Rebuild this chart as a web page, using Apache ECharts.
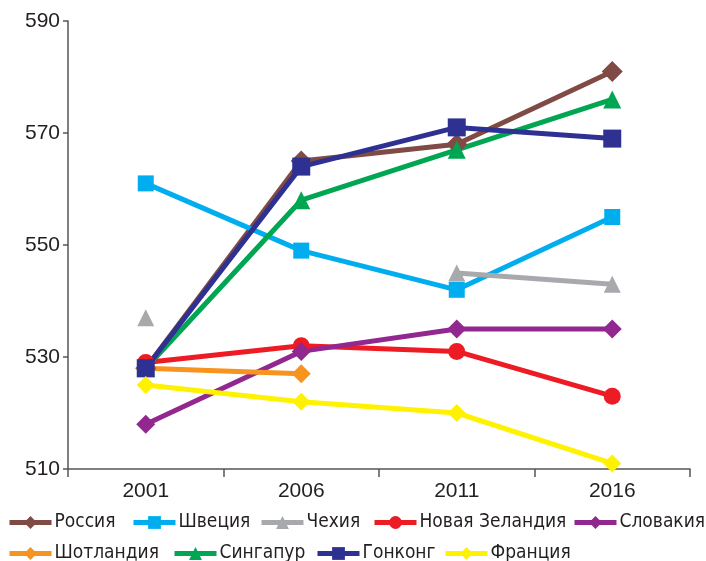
<!DOCTYPE html>
<html lang="ru">
<head>
    <meta charset="UTF-8">
    <title>Chart</title>
    <script type="text/javascript" src="https://cdn.jsdelivr.net/npm/echarts@6/dist/echarts.min.js"></script>
    <style>
        html, body { margin: 0; padding: 0; background: #fff; }
        #chart { width: 706px; height: 561px; }
    </style>
</head>
<body>
<div id="chart"></div>
<script type="text/javascript">
    var years = ['2001', '2006', '2011', '2016'];
    var russia = [528, 565, 568, 581];
    var sweden = [561, 549, 542, 555];
    var czech = [537, null, 545, 543];
    var newZealand = [529, 532, 531, 523];
    var slovakia = [518, 531, 535, 535];
    var scotland = [528, 527, null, null];
    var singapore = [528, 558, 567, 576];
    var hongKong = [528, 564, 571, 569];
    var france = [525, 522, 520, 511];

    var chart = echarts.init(document.getElementById('chart'));

    function line(name, data, color, symbol, size) {
        return {
            name: name,
            type: 'line',
            data: data,
            symbol: symbol,
            symbolSize: size,
            connectNulls: false,
            lineStyle: { color: color, width: 5 },
            itemStyle: { color: color },
            emphasis: { disabled: true }
        };
    }

    // condensed face like the original, with fallbacks
    var narrow = "'Liberation Sans Narrow', 'DejaVu Sans Condensed', 'Roboto Condensed', 'Liberation Sans', sans-serif";

    // one legend per item so the two rows sit where the original has them
    function legendItem(name, left, top) {
        return {
            data: [name],
            left: left, top: top, padding: 0,
            itemWidth: 42, itemHeight: 16,
            lineStyle: { width: 5 },
            textStyle: { fontFamily: narrow, fontSize: 19, color: '#231f20', padding: [0, 0, 0, -2] }
        };
    }

    var option = {
        animation: false,
        grid: { left: 68, right: 16, top: 21, bottom: 92 },
        legend: [
            legendItem('Россия', 7, 513),
            legendItem('Швеция', 131, 513),
            legendItem('Чехия', 259, 513),
            legendItem('Новая Зеландия', 372, 513),
            legendItem('Словакия', 572, 513),
            legendItem('Шотландия', 7, 544),
            legendItem('Сингапур', 172, 544),
            legendItem('Гонконг', 315, 544),
            legendItem('Франция', 443, 544)
        ],
        xAxis: {
            type: 'category',
            data: years,
            boundaryGap: true,
            axisLine: { lineStyle: { color: '#555', width: 1.5 } },
            axisTick: { show: true, length: 8, lineStyle: { color: '#555', width: 1.5 } },
            axisLabel: { fontFamily: 'Liberation Sans', fontSize: 21, color: '#231f20', margin: 12 }
        },
        yAxis: {
            type: 'value',
            min: 510, max: 590, interval: 20,
            splitLine: { show: false },
            axisLine: { show: true, lineStyle: { color: '#555', width: 1.5 } },
            axisTick: { show: true, length: 5, lineStyle: { color: '#555', width: 1.5 } },
            axisLabel: { fontFamily: 'Liberation Sans', fontSize: 21, color: '#231f20', margin: 8 }
        },
        series: [
            line('Россия', russia, '#7f4b44', 'diamond', 21),
            line('Швеция', sweden, '#00aeef', 'rect', 16),
            line('Чехия', czech, '#a7a9ac', 'triangle', 17),
            line('Новая Зеландия', newZealand, '#ed1c24', 'circle', 17),
            line('Словакия', slovakia, '#92278f', 'diamond', 19),
            line('Шотландия', scotland, '#f7941d', 'diamond', 19),
            line('Сингапур', singapore, '#00a651', 'triangle', 18),
            line('Гонконг', hongKong, '#2e3192', 'rect', 18),
            line('Франция', france, '#fff200', 'diamond', 18)
        ]
    };
    chart.setOption(option);
</script>
</body>
</html>
